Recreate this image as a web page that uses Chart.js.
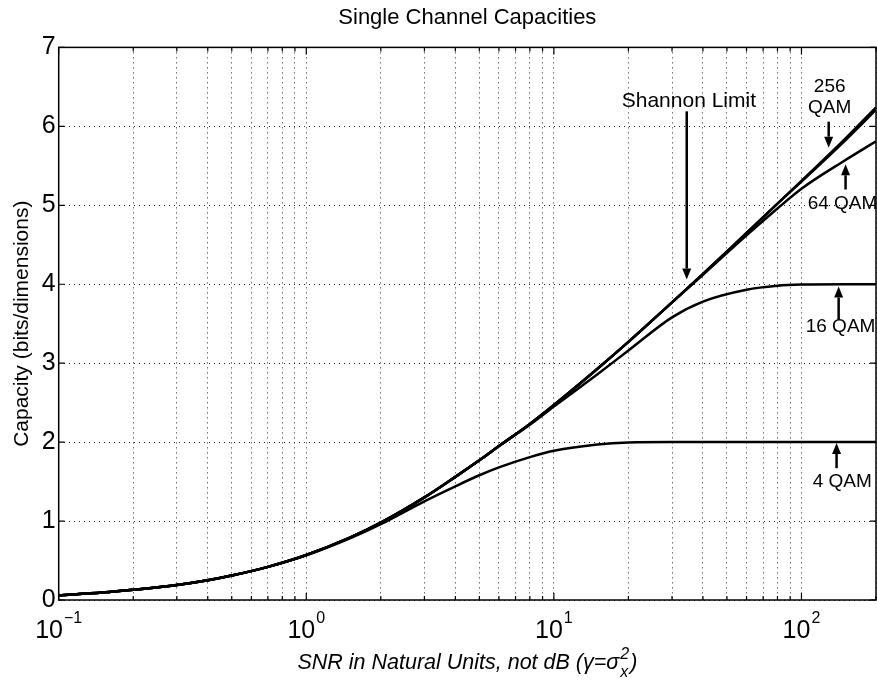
<!DOCTYPE html>
<html>
<head>
<meta charset="utf-8">
<script src="https://cdn.jsdelivr.net/npm/chart.js@4.4.0/dist/chart.umd.min.js"></script>
<style>
  html, body { margin: 0; padding: 0; background: #fff; }
</style>
</head>
<body>
<canvas id="capChart" width="877" height="685"></canvas>
<script>
// SNR sample points (natural units) and capacity of each curve in bits/dimension
const snr      = [0.1, 0.15, 0.2, 0.3, 0.4, 0.5, 0.7, 1, 1.5, 2, 3, 4, 5, 6, 8, 10, 15, 20, 30, 40, 60, 80, 100, 150, 200];
const shannon  = [0.06, 0.095, 0.13, 0.19, 0.25, 0.31, 0.42, 0.57, 0.79, 0.98, 1.30, 1.56, 1.77, 1.95, 2.23, 2.47, 2.93, 3.27, 3.77, 4.13, 4.65, 5.02, 5.31, 5.84, 6.24];
const qam256   = [0.06, 0.095, 0.13, 0.19, 0.25, 0.31, 0.42, 0.57, 0.79, 0.98, 1.30, 1.56, 1.77, 1.95, 2.23, 2.47, 2.93, 3.27, 3.77, 4.13, 4.65, 5.02, 5.30, 5.82, 6.21];
const qam64    = [0.06, 0.095, 0.13, 0.19, 0.25, 0.31, 0.42, 0.57, 0.79, 0.98, 1.30, 1.56, 1.77, 1.95, 2.23, 2.47, 2.93, 3.27, 3.77, 4.12, 4.62, 4.96, 5.21, 5.57, 5.81];
const qam16    = [0.06, 0.095, 0.13, 0.19, 0.25, 0.31, 0.42, 0.57, 0.79, 0.98, 1.30, 1.56, 1.77, 1.95, 2.22, 2.45, 2.86, 3.16, 3.58, 3.78, 3.93, 3.98, 3.995, 4.0, 4.0];
const qam4     = [0.06, 0.095, 0.13, 0.19, 0.25, 0.31, 0.42, 0.565, 0.78, 0.96, 1.25, 1.44, 1.58, 1.68, 1.81, 1.89, 1.97, 1.995, 2.0, 2.0, 2.0, 2.0, 2.0, 2.0, 2.0];

// log grid positions and the decade labels (10^exp)
const xTicks = [0.1, 0.2, 0.3, 0.4, 0.5, 0.6, 0.7, 0.8, 0.9,
                1, 2, 3, 4, 5, 6, 7, 8, 9,
                10, 20, 30, 40, 50, 60, 70, 80, 90,
                100, 200];
const decades = [0.1, 1, 10, 100];
const decadeExp = ["\u22121", "0", "1", "2"];
const yTicks = [0, 1, 2, 3, 4, 5, 6, 7];

// curve labels: [text, snr, capacity, align, font size]
const notes = [
  ["Shannon Limit", 18.8, 6.32, "left", 21],
  ["256", 130, 6.50, "center", 19],
  ["QAM", 130, 6.24, "center", 19],
  ["64 QAM", 105.9, 5.02, "left", 19],
  ["16 QAM", 104, 3.46, "left", 19],
  ["4 QAM", 111, 1.50, "left", 19],
];
// arrows: [snr, capacity at tail, capacity at head]
const arrows = [
  [34.4, 6.19, 4.06],
  [128.8, 6.06, 5.73],
  [150.7, 5.20, 5.52],
  [141.3, 3.55, 3.97],
  [138.6, 1.67, 1.99],
];

const FONT = '"Liberation Sans", Arial, Helvetica, sans-serif';

function series(ys) {
  return snr.map((x, i) => ({ x: x, y: ys[i] }));
}

function curve(label, ys) {
  return {
    label: label,
    data: series(ys),
    borderColor: "#000",
    borderWidth: 2.5,
    pointRadius: 0,
    fill: false,
    cubicInterpolationMode: "monotone",
  };
}

// box, inward tick marks, decade labels, x title and curve notes
const decorPlugin = {
  id: "decor",
  afterDatasetsDraw(chart) {
    const ctx = chart.ctx;
    const a = chart.chartArea;
    const xs = chart.scales.x;
    const ys = chart.scales.y;
    ctx.save();
    ctx.strokeStyle = "#000";
    ctx.fillStyle = "#000";

    // inner ticks
    ctx.lineWidth = 1.2;
    ctx.beginPath();
    xTicks.forEach((v) => {
      const px = xs.getPixelForValue(v);
      const len = decades.includes(v) ? 7 : 4;
      ctx.moveTo(px, a.bottom);
      ctx.lineTo(px, a.bottom - len);
      ctx.moveTo(px, a.top);
      ctx.lineTo(px, a.top + len);
    });
    yTicks.forEach((v) => {
      const py = ys.getPixelForValue(v);
      ctx.moveTo(a.left, py);
      ctx.lineTo(a.left + 6, py);
      ctx.moveTo(a.right, py);
      ctx.lineTo(a.right - 6, py);
    });
    ctx.stroke();

    // frame
    ctx.lineWidth = 1.5;
    ctx.strokeRect(a.left, a.top, a.right - a.left, a.bottom - a.top);

    // decade labels 10^n
    ctx.textBaseline = "alphabetic";
    ctx.textAlign = "left";
    decades.forEach((v, i) => {
      const px = xs.getPixelForValue(v);
      ctx.font = "25px " + FONT;
      const wBase = ctx.measureText("10").width;
      ctx.font = "16px " + FONT;
      const wExp = ctx.measureText(decadeExp[i]).width;
      const x0 = px - (wBase + 1 + wExp) / 2;
      ctx.font = "25px " + FONT;
      ctx.fillText("10", x0, a.bottom + 38);
      ctx.font = "16px " + FONT;
      ctx.fillText(decadeExp[i], x0 + wBase + 1, a.bottom + 23);
    });

    // x axis title with stacked sub/superscript
    const main = "SNR in Natural Units, not dB (\u03B3=\u03C3";
    ctx.font = "italic 21.5px " + FONT;
    const w1 = ctx.measureText(main).width;
    const w3 = ctx.measureText(")").width;
    ctx.font = "italic 16px " + FONT;
    const w2 = Math.max(ctx.measureText("2").width, ctx.measureText("x").width);
    const cx = (a.left + a.right) / 2;
    const sx = cx - (w1 + w2 + 2 + w3) / 2;
    const base = a.bottom + 69;
    ctx.font = "italic 21.5px " + FONT;
    ctx.fillText(main, sx, base);
    ctx.fillText(")", sx + w1 + w2 + 2, base);
    ctx.font = "italic 16px " + FONT;
    ctx.fillText("2", sx + w1 + 1, base - 10);
    ctx.fillText("x", sx + w1 + 1, base + 8);

    // curve notes
    ctx.textBaseline = "middle";
    notes.forEach(([t, x, y, align, size]) => {
      ctx.font = size + "px " + FONT;
      ctx.textAlign = align;
      ctx.fillText(t, xs.getPixelForValue(x), ys.getPixelForValue(y));
    });

    // arrows
    arrows.forEach(([x, from, to]) => {
      const px = xs.getPixelForValue(x);
      const p0 = ys.getPixelForValue(from);
      const p1 = ys.getPixelForValue(to);
      const dir = p1 > p0 ? 1 : -1;
      const head = 11;
      ctx.lineWidth = 2.5;
      ctx.beginPath();
      ctx.moveTo(px, p0);
      ctx.lineTo(px, p1 - dir * head);
      ctx.stroke();
      ctx.beginPath();
      ctx.moveTo(px, p1);
      ctx.lineTo(px - 4.5, p1 - dir * head);
      ctx.lineTo(px + 4.5, p1 - dir * head);
      ctx.closePath();
      ctx.fill();
    });
    ctx.restore();
  },
};

new Chart(document.getElementById("capChart"), {
  type: "line",
  data: {
    datasets: [
      curve("Shannon Limit", shannon),
      curve("256 QAM", qam256),
      curve("64 QAM", qam64),
      curve("16 QAM", qam16),
      curve("4 QAM", qam4),
    ],
  },
  options: {
    responsive: false,
    animation: false,
    layout: { padding: { top: 0, right: 1, bottom: 0, left: 0 } },
    plugins: {
      legend: { display: false },
      tooltip: { enabled: false },
      title: {
        display: true,
        text: "Single Channel Capacities",
        color: "#000",
        fullSize: false,
        font: { size: 22, weight: "normal", family: FONT },
        padding: { top: 5, bottom: 16 },
      },
    },
    scales: {
      x: {
        type: "logarithmic",
        min: 0.1,
        max: 200,
        afterBuildTicks: (s) => {
          s.ticks = xTicks.map((v) => ({ value: v }));
        },
        afterFit: (s) => {
          s.height = 85;
        },
        ticks: { display: false, autoSkip: false },
        grid: { color: "#222", lineWidth: 1, drawTicks: false },
        border: { display: false, dash: [1, 4] },
      },
      y: {
        min: 0,
        max: 7,
        afterBuildTicks: (s) => {
          s.ticks = yTicks.map((v) => ({ value: v }));
        },
        afterFit: (s) => {
          s.width = 58.7;
        },
        ticks: {
          color: "#000",
          padding: 3,
          font: { size: 25, family: FONT },
        },
        grid: { color: "#222", lineWidth: 1, drawTicks: false },
        border: { display: false, dash: [1, 4] },
        title: {
          display: true,
          text: "Capacity (bits/dimensions)",
          color: "#000",
          font: { size: 21, family: FONT },
          padding: { top: 10, bottom: 0 },
        },
      },
    },
  },
  plugins: [decorPlugin],
});
</script>
</body>
</html>
